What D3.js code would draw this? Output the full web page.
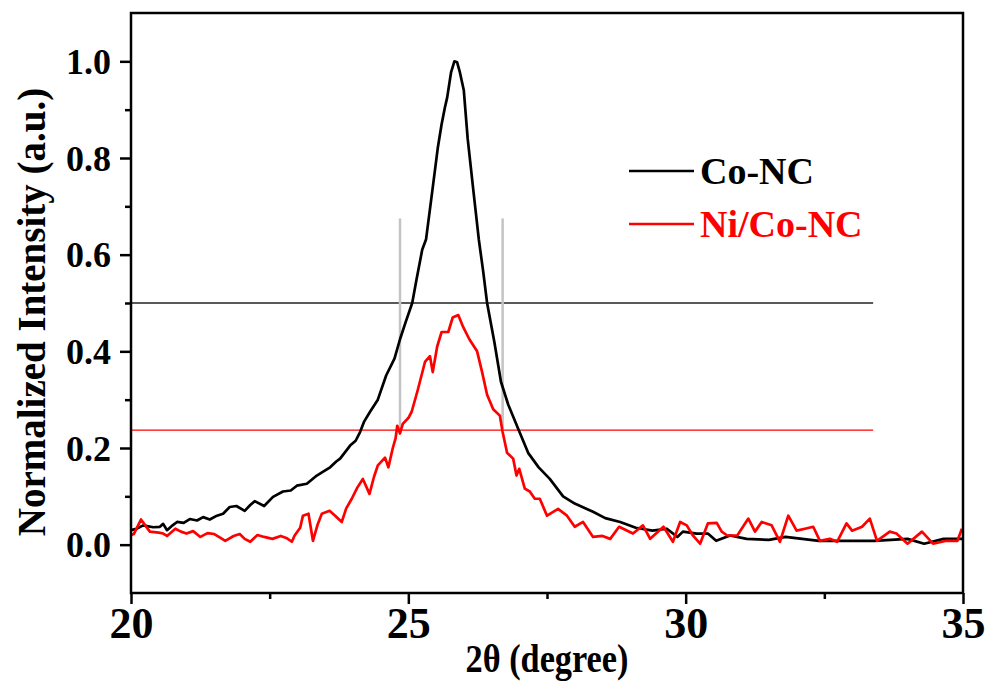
<!DOCTYPE html>
<html>
<head>
<meta charset="utf-8">
<script src="https://cdn.jsdelivr.net/npm/d3@7"></script>
<style>
  body { margin: 0; background: #fff; }
  svg text { font-family: "Liberation Serif", "Times New Roman", serif; font-weight: bold; }
</style>
</head>
<body>
<div id="chart"></div>
<script>
// Co-NC curve (2theta, normalized intensity)
var coX = [20.0, 20.1, 20.22, 20.4, 20.52, 20.58, 20.65, 20.75, 20.83, 20.95, 21.06, 21.19, 21.3, 21.42, 21.55, 21.66,
  21.78, 21.9, 22.05, 22.15, 22.23, 22.4, 22.56, 22.74, 22.88, 22.99, 23.17, 23.35, 23.45, 23.59, 23.7, 23.77,
  23.85, 23.95, 24.05, 24.13, 24.2, 24.31, 24.45, 24.6, 24.75, 24.85, 24.95, 25.07, 25.15, 25.25, 25.32, 25.43,
  25.53, 25.6, 25.66, 25.7, 25.77, 25.83, 25.88, 25.93, 26.0, 26.07, 26.17, 26.27, 26.35, 26.42, 26.55, 26.67,
  26.8, 26.98, 27.16, 27.35, 27.55, 27.79, 28.0, 28.33, 28.55, 28.82, 29.1, 29.4, 29.66, 29.85, 29.95, 30.2,
  30.4, 30.55, 30.8, 31.1, 31.5, 31.8, 32.4, 32.8, 33.4, 34.0, 34.3, 34.65, 35.0];
var coY = [0.030, 0.033, 0.040, 0.036, 0.037, 0.043, 0.030, 0.040, 0.047, 0.045, 0.053, 0.050, 0.057, 0.052, 0.060, 0.064,
  0.078, 0.080, 0.070, 0.082, 0.090, 0.080, 0.099, 0.110, 0.112, 0.122, 0.126, 0.143, 0.150, 0.160, 0.172, 0.178,
  0.190, 0.205, 0.215, 0.233, 0.254, 0.275, 0.300, 0.350, 0.385, 0.425, 0.460, 0.500, 0.550, 0.610, 0.632, 0.730,
  0.820, 0.870, 0.905, 0.925, 0.977, 1.000, 0.998, 0.977, 0.940, 0.840, 0.735, 0.632, 0.565, 0.500, 0.420, 0.337,
  0.290, 0.240, 0.190, 0.160, 0.136, 0.100, 0.085, 0.068, 0.055, 0.047, 0.035, 0.029, 0.033, 0.016, 0.027, 0.023,
  0.023, 0.008, 0.019, 0.012, 0.010, 0.016, 0.008, 0.008, 0.008, 0.012, 0.002, 0.012, 0.012];

// Ni/Co-NC curve
var niX = [20.0, 20.05, 20.18, 20.34, 20.5, 20.58, 20.65, 20.8, 20.9, 21.0, 21.12, 21.25, 21.38, 21.5, 21.6, 21.7,
  21.85, 21.96, 22.05, 22.15, 22.28, 22.4, 22.55, 22.7, 22.8, 22.9, 22.95, 23.05, 23.1, 23.2, 23.28, 23.36,
  23.44, 23.58, 23.68, 23.8, 23.88, 23.98, 24.08, 24.18, 24.3, 24.38, 24.45, 24.58, 24.64, 24.72, 24.77, 24.8,
  24.85, 24.9, 25.0, 25.06, 25.17, 25.3, 25.39, 25.44, 25.52, 25.6, 25.72, 25.8, 25.9, 25.99, 26.1, 26.24,
  26.33, 26.42, 26.53, 26.65, 26.7, 26.78, 26.89, 26.95, 27.0, 27.1, 27.19, 27.28, 27.37, 27.5, 27.7, 27.86,
  28.0, 28.15, 28.33, 28.5, 28.64, 28.8, 29.05, 29.23, 29.36, 29.6, 29.77, 29.9, 30.02, 30.13, 30.26, 30.4,
  30.56, 30.65, 30.75, 30.93, 31.13, 31.25, 31.37, 31.55, 31.7, 31.85, 32.0, 32.15, 32.3, 32.42, 32.6, 32.73,
  32.9, 33.0, 33.18, 33.32, 33.45, 33.68, 33.8, 34.0, 34.26, 34.46, 34.7, 34.9, 34.98];
var niY = [0.020, 0.022, 0.052, 0.027, 0.025, 0.023, 0.018, 0.033, 0.027, 0.023, 0.028, 0.016, 0.024, 0.022, 0.015, 0.008,
  0.018, 0.022, 0.012, 0.006, 0.020, 0.016, 0.012, 0.018, 0.014, 0.006, 0.019, 0.035, 0.060, 0.064, 0.008, 0.040,
  0.064, 0.070, 0.060, 0.047, 0.075, 0.095, 0.118, 0.136, 0.105, 0.140, 0.164, 0.180, 0.160, 0.200, 0.220, 0.246,
  0.230, 0.250, 0.262, 0.275, 0.320, 0.378, 0.390, 0.357, 0.410, 0.440, 0.440, 0.470, 0.475, 0.450, 0.425, 0.400,
  0.357, 0.310, 0.280, 0.267, 0.233, 0.190, 0.178, 0.143, 0.157, 0.116, 0.110, 0.095, 0.095, 0.060, 0.074, 0.060,
  0.037, 0.047, 0.016, 0.018, 0.012, 0.037, 0.023, 0.040, 0.012, 0.037, 0.006, 0.047, 0.040, 0.019, 0.002, 0.044,
  0.045, 0.027, 0.019, 0.019, 0.054, 0.027, 0.047, 0.040, 0.006, 0.060, 0.029, 0.033, 0.037, 0.008, 0.012, 0.006,
  0.044, 0.029, 0.037, 0.054, 0.008, 0.027, 0.023, 0.002, 0.027, 0.002, 0.008, 0.008, 0.033];

var seriesNames = ["Co-NC", "Ni/Co-NC"];
var seriesColors = ["#000000", "#ff0000"];

// half-maximum guide lines: level and end of line
var halfLevels = [0.5, 0.237];
var halfColors = ["#222222", "#ff0000"];
var halfEnd = 33.38;
// FWHM markers (grey verticals)
var fwhmX = [24.85, 26.7];
var fwhmTop = 0.675;

var xTicks = [20, 25, 30, 35];
var xMinor = [22.5, 27.5, 32.5];
var yTicks = [0.0, 0.2, 0.4, 0.6, 0.8, 1.0];
var yMinor = [0.1, 0.3, 0.5, 0.7, 0.9];

var svgWidth = 985, svgHeight = 684;
var margin = { top: 13, right: 22, bottom: 91, left: 131 },
    plotWidth = svgWidth - margin.left - margin.right,
    plotHeight = svgHeight - margin.top - margin.bottom;

var xScale = d3.scaleLinear().domain([20, 35]).range([0, plotWidth]);
var yScale = d3.scaleLinear().domain([-0.1, 1.1]).range([plotHeight, 0]);

var svg = d3.select("#chart").append("svg")
    .attr("width", svgWidth)
    .attr("height", svgHeight);

var g = svg.append("g")
    .attr("transform", "translate(" + margin.left + "," + margin.top + ")");

// half maximum lines
g.selectAll(".half-line")
    .data(halfLevels)
    .enter().append("line")
    .attr("class", "half-line")
    .attr("x1", 0)
    .attr("x2", xScale(halfEnd))
    .attr("y1", function (d) { return yScale(d); })
    .attr("y2", function (d) { return yScale(d); })
    .attr("stroke", function (d, i) { return halfColors[i]; })
    .attr("stroke-width", 1.4);

// grey FWHM verticals
g.selectAll(".fwhm-line")
    .data(fwhmX)
    .enter().append("line")
    .attr("class", "fwhm-line")
    .attr("x1", function (d) { return xScale(d); })
    .attr("x2", function (d) { return xScale(d); })
    .attr("y1", yScale(fwhmTop))
    .attr("y2", yScale(halfLevels[1]))
    .attr("stroke", "#c4c4c4")
    .attr("stroke-width", 2.5);

var line = d3.line()
    .x(function (d) { return xScale(d[0]); })
    .y(function (d) { return yScale(d[1]); });

var coData = d3.zip(coX, coY);
var niData = d3.zip(niX, niY);

g.append("path")
    .datum(coData)
    .attr("d", line)
    .attr("fill", "none")
    .attr("stroke", seriesColors[0])
    .attr("stroke-width", 2.7)
    .attr("stroke-linejoin", "round");

g.append("path")
    .datum(niData)
    .attr("d", line)
    .attr("fill", "none")
    .attr("stroke", seriesColors[1])
    .attr("stroke-width", 2.7)
    .attr("stroke-linejoin", "round");

// frame
g.append("rect")
    .attr("x", 0)
    .attr("y", 0)
    .attr("width", plotWidth)
    .attr("height", plotHeight)
    .attr("fill", "none")
    .attr("stroke", "#000")
    .attr("stroke-width", 2.5);

// x axis
var xAxis = d3.axisBottom(xScale).tickValues(xTicks).tickSize(11).tickPadding(3)
    .tickFormat(d3.format("d"));
var xAxisG = g.append("g")
    .attr("transform", "translate(0," + plotHeight + ")")
    .call(xAxis);
xAxisG.select(".domain").remove();
xAxisG.selectAll(".tick line").attr("stroke-width", 2.5);
xAxisG.selectAll(".tick text").attr("font-size", "44px").attr("fill", "#000")
    .attr("font-family", "Liberation Serif, serif").attr("font-weight", "bold");

var xMinorAxis = d3.axisBottom(xScale).tickValues(xMinor).tickSize(6).tickFormat("");
var xMinorG = g.append("g")
    .attr("transform", "translate(0," + plotHeight + ")")
    .call(xMinorAxis);
xMinorG.select(".domain").remove();
xMinorG.selectAll(".tick line").attr("stroke-width", 2.5);

// y axis
var yAxis = d3.axisLeft(yScale).tickValues(yTicks).tickSize(11).tickPadding(9)
    .tickFormat(d3.format(".1f"));
var yAxisG = g.append("g").call(yAxis);
yAxisG.select(".domain").remove();
yAxisG.selectAll(".tick line").attr("stroke-width", 2.5);
yAxisG.selectAll(".tick text").attr("font-size", "36px").attr("fill", "#000")
    .attr("dy", "0.34em")
    .attr("font-family", "Liberation Serif, serif").attr("font-weight", "bold");

var yMinorAxis = d3.axisLeft(yScale).tickValues(yMinor).tickSize(6).tickFormat("");
var yMinorG = g.append("g").call(yMinorAxis);
yMinorG.select(".domain").remove();
yMinorG.selectAll(".tick line").attr("stroke-width", 2.5);

// axis titles
svg.append("text")
    .attr("transform", "translate(" + (margin.left + xScale(27.5)) + ",672) scale(0.88,1)")
    .attr("text-anchor", "middle")
    .attr("font-size", "39px")
    .text("2θ (degree)");

svg.append("text")
    .attr("transform", "translate(45,312) rotate(-90)")
    .attr("text-anchor", "middle")
    .attr("font-size", "39px")
    .text("Normalized Intensity (a.u.)");

// legend
var legend = svg.append("g").attr("transform", "translate(629,171)");
var legendItems = legend.selectAll(".legend-item")
    .data(seriesNames)
    .enter().append("g")
    .attr("class", "legend-item")
    .attr("transform", function (d, i) { return "translate(0," + (i * 53) + ")"; });

legendItems.append("line")
    .attr("x1", 0)
    .attr("x2", 65)
    .attr("y1", 0)
    .attr("y2", 0)
    .attr("stroke", function (d, i) { return seriesColors[i]; })
    .attr("stroke-width", 2.5);

legendItems.append("text")
    .attr("x", 71)
    .attr("y", 13)
    .attr("font-size", "38px")
    .attr("fill", function (d, i) { return seriesColors[i]; })
    .text(function (d) { return d; });
</script>
</body>
</html>
